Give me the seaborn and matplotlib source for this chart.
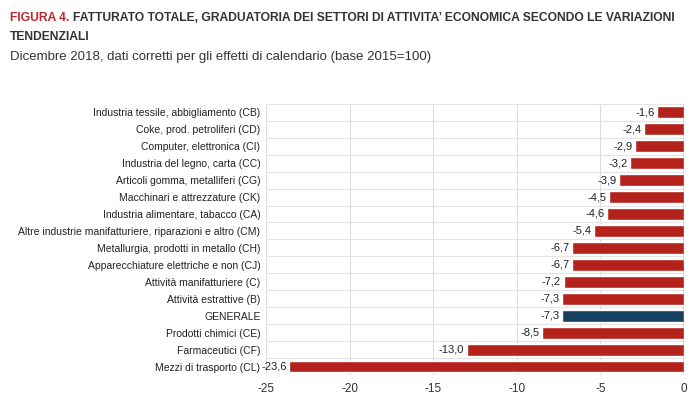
import numpy as np
import pandas as pd
import matplotlib
matplotlib.use("Agg")
import matplotlib.pyplot as plt
import seaborn as sns

# -----------------------------
# Data
# -----------------------------
sectors = [
    "Industria tessile, abbigliamento (CB)",
    "Coke, prod. petroliferi (CD)",
    "Computer, elettronica (CI)",
    "Industria del legno, carta (CC)",
    "Articoli gomma, metalliferi (CG)",
    "Macchinari e attrezzature (CK)",
    "Industria alimentare, tabacco (CA)",
    "Altre industrie manifatturiere, riparazioni e altro (CM)",
    "Metallurgia, prodotti in metallo (CH)",
    "Apparecchiature elettriche e non (CJ)",
    "Attività manifatturiere (C)",
    "Attività estrattive (B)",
    "GENERALE",
    "Prodotti chimici (CE)",
    "Farmaceutici (CF)",
    "Mezzi di trasporto (CL)",
]
variations = [-1.6, -2.4, -2.9, -3.2, -3.9, -4.5, -4.6, -5.4,
              -6.7, -6.7, -7.2, -7.3, -7.3, -8.5, -13.0, -23.6]
x_ticks = [-25, -20, -15, -10, -5, 0]

RED = "#B5221B"
BLUE = "#173F5F"

df = pd.DataFrame({"settore": sectors, "var": variations})
df["gruppo"] = np.where(df["settore"] == "GENERALE", "tot", "set")

sns.set_style("white")
plt.rcParams["font.family"] = ["Liberation Sans", "DejaVu Sans"]

fig = plt.figure(figsize=(7, 4), dpi=100)
ax = fig.add_axes([0.38, 0.0625, 0.597, 0.678])

sns.barplot(data=df, y="settore", x="var", hue="gruppo",
            palette={"set": RED, "tot": BLUE}, dodge=False,
            width=0.7, legend=False, ax=ax, saturation=1)

ax.set_xlim(-25, 0)
ax.set_xticks(x_ticks)
ax.set_xticklabels([str(t) for t in x_ticks], fontsize=8.5, color="#333333")
ax.set_xlabel("")
ax.set_ylabel("")
ax.tick_params(axis="y", labelsize=7.5, colors="#222222", length=0, pad=4)
ax.tick_params(axis="x", length=0, pad=6)

# gridlines
for t in x_ticks[:-1]:
    ax.axvline(t, color="#dddddd", lw=0.8, zorder=0)
for i in range(len(sectors) + 1):
    ax.axhline(i - 0.5, color="#e4e4e4", lw=0.8, zorder=0)
ax.axvline(0, color="#555555", lw=1.0, zorder=3)

for s in ax.spines.values():
    s.set_visible(False)

# value labels
for i, v in enumerate(variations):
    ax.text(v - 0.15, i, f"{v:.1f}".replace(".", ","), ha="right", va="center",
            fontsize=8, color="#222222")

# title (two colours on the first line), shrunk to fit the width
title_rest = "FATTURATO TOTALE, GRADUATORIA DEI SETTORI DI ATTIVITA’ ECONOMICA SECONDO LE VARIAZIONI"
fs = 12.0
t1 = fig.text(0.014, 0.955, "FIGURA 4.", color="#C0262D", fontsize=fs,
              fontweight="bold", va="center", ha="left")
t2 = fig.text(0.1, 0.955, title_rest, color="#333333", fontsize=fs,
              fontweight="bold", va="center", ha="left")
fig.canvas.draw()
r = fig.canvas.get_renderer()
w = t1.get_window_extent(r).width + 4 + t2.get_window_extent(r).width
fs = fs * (0.965 * 700 - 10) / w
t1.set_fontsize(fs)
t2.set_fontsize(fs)
fig.canvas.draw()
bb = t1.get_window_extent(r).transformed(fig.transFigure.inverted())
t2.set_x(bb.x1 + 0.006)
fig.text(0.014, 0.907, "TENDENZIALI", color="#333333", fontsize=fs,
         fontweight="bold", va="center", ha="left")
fig.text(0.014, 0.858,
         "Dicembre 2018, dati corretti per gli effetti di calendario (base 2015=100)",
         color="#333333", fontsize=9.5, va="center", ha="left")

fig.savefig("out.png", dpi=100)
